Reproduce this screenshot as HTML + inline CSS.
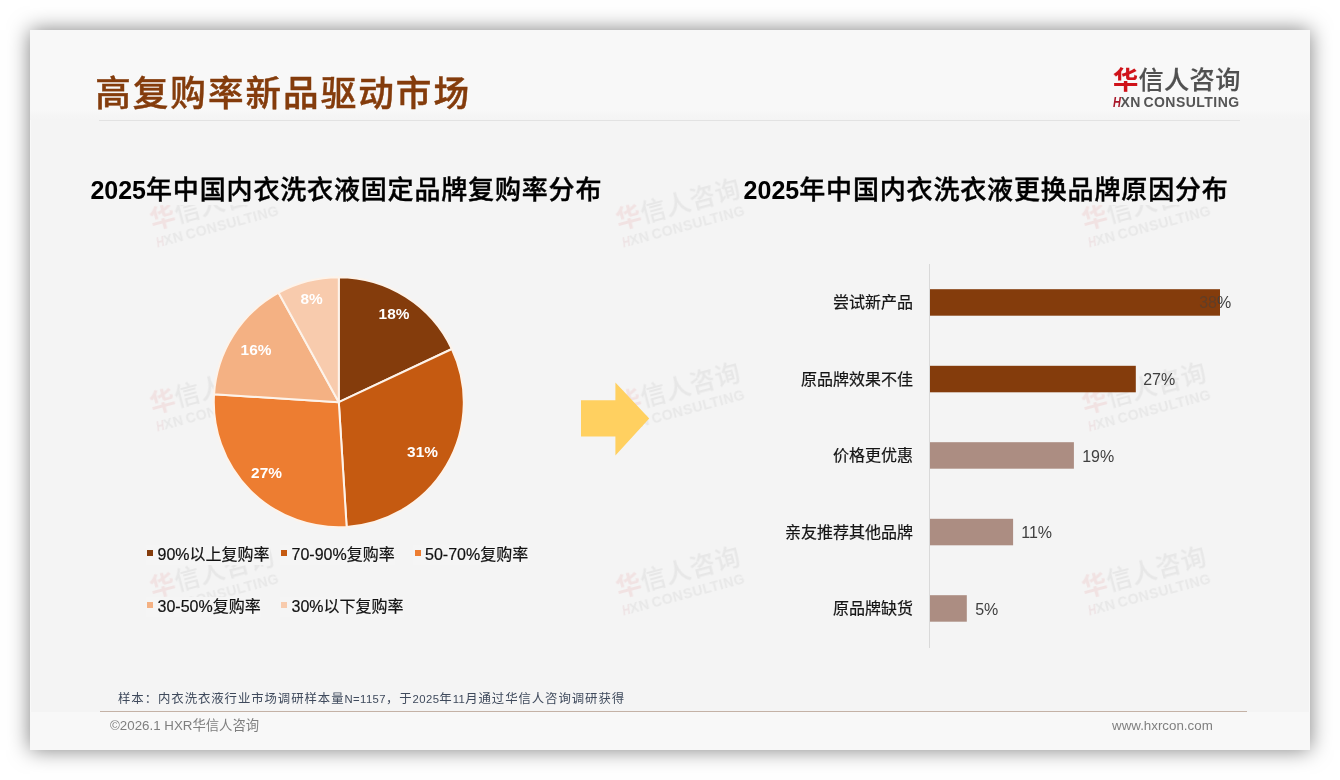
<!DOCTYPE html>
<html lang="zh-CN">
<head>
<meta charset="utf-8">
<title>高复购率新品驱动市场</title>
<style>
*{margin:0;padding:0;box-sizing:border-box}
html,body{width:1340px;height:780px;background:#fff;overflow:hidden}
body{position:relative;font-family:"Liberation Sans","Noto Sans CJK SC",sans-serif;color:#1a1a1a}
.slide{position:absolute;left:30px;top:30px;width:1280px;height:720px;background:#f4f4f4;box-shadow:0 0 20px rgba(0,0,0,.5),inset 0 0 0 1px rgba(255,255,255,.45);overflow:hidden}
.hdr{position:absolute;left:0;top:0;width:1280px;height:90px;background:linear-gradient(#f8f8f8 0,#f8f8f8 80px,#f5f5f5 86px,#f4f4f4 90px)}
.ftr{position:absolute;left:0;top:682px;width:1280px;height:38px;background:#f8f8f8}
.abs{position:absolute;white-space:nowrap}
.title{left:65.2px;top:38.8px;font-size:35.6px;letter-spacing:2px;line-height:50px;font-weight:500;-webkit-text-stroke:.45px #843C0C;color:#843C0C;font-family:"Liberation Sans","Noto Sans CJK SC",sans-serif}
.hline{left:69px;top:89.7px;width:1141px;height:1.3px;background:#e2e2e2}
.fline{left:70px;top:681px;width:1147px;height:1px;background:#c4b2a6}
.logo{width:128px;height:44px}
.logo .cn{position:absolute;left:0;top:-1px;font-size:25.2px;line-height:30px;font-weight:500;-webkit-text-stroke:.15px;color:#505050;letter-spacing:.35px;font-family:"Liberation Sans","Noto Sans CJK SC",sans-serif}
.logo .cn b{color:#cf1219;font-weight:700}
.logo .en{position:absolute;left:0;top:29.4px;font-size:14px;line-height:14px;font-weight:700;color:#555;font-family:"Liberation Sans",sans-serif;letter-spacing:.46px;word-spacing:-1.8px}
.logo .en b{color:#a8182a;font-style:italic;display:inline-block;transform:scaleX(.78);transform-origin:0 50%;margin-right:-2.6px;letter-spacing:0}
.wm .cn{top:-2.1px}
.wm{opacity:.075;filter:blur(.4px);transform:rotate(-15deg);transform-origin:0 0}
.ctitle u{text-decoration:none;letter-spacing:0;font-weight:700;-webkit-text-stroke:0;font-size:25px}
.ctitle{font-size:26px;letter-spacing:.84px;line-height:29px;background:#f4f4f4;font-weight:500;-webkit-text-stroke:.4px #000;color:#000;font-family:"Liberation Sans","Noto Sans CJK SC",sans-serif}
.plabel{font-size:15.4px;line-height:16px;font-weight:700;color:#fff;transform:translate(-50%,-50%);font-family:"Liberation Sans",sans-serif}
.leg{font-size:16px;line-height:20px;background:#f5f5f5;box-shadow:-12px 0 0 #f5f5f5;color:#111;-webkit-text-stroke:.2px #111}
.leg i{position:absolute;left:-10.5px;top:5.4px;width:6px;height:6px;display:block}
.blabel{font-size:16px;line-height:20px;color:#151515;-webkit-text-stroke:.2px #151515;text-align:right;width:200px}
.bval{font-size:16px;line-height:20px;color:#404040;font-family:"Liberation Sans",sans-serif}
.note{font-size:12.4px;letter-spacing:.93px;line-height:16px;color:#3f4a5c}
.note u{text-decoration:none;font-size:11.3px;letter-spacing:.4px}
.note s{text-decoration:none;font-family:"Liberation Sans","Noto Sans CJK TC",sans-serif}
.foot{font-size:13.33px;line-height:16px;color:#7f7f7f}
</style>
</head>
<body>
<div class="slide">
  <div class="hdr"></div>
  <div class="ftr"></div>

  <!-- watermarks -->
  <div class="abs logo wm" style="left:117px;top:177.9px"><div class="cn abs"><b>华</b>信人咨询</div><div class="en abs"><b>H</b>XN CONSULTING</div></div>
  <div class="abs logo wm" style="left:583px;top:177.9px"><div class="cn abs"><b>华</b>信人咨询</div><div class="en abs"><b>H</b>XN CONSULTING</div></div>
  <div class="abs logo wm" style="left:1049px;top:177.9px"><div class="cn abs"><b>华</b>信人咨询</div><div class="en abs"><b>H</b>XN CONSULTING</div></div>
  <div class="abs logo wm" style="left:117px;top:361.9px"><div class="cn abs"><b>华</b>信人咨询</div><div class="en abs"><b>H</b>XN CONSULTING</div></div>
  <div class="abs logo wm" style="left:583px;top:361.9px"><div class="cn abs"><b>华</b>信人咨询</div><div class="en abs"><b>H</b>XN CONSULTING</div></div>
  <div class="abs logo wm" style="left:1049px;top:361.9px"><div class="cn abs"><b>华</b>信人咨询</div><div class="en abs"><b>H</b>XN CONSULTING</div></div>
  <div class="abs logo wm" style="left:117px;top:545.9px"><div class="cn abs"><b>华</b>信人咨询</div><div class="en abs"><b>H</b>XN CONSULTING</div></div>
  <div class="abs logo wm" style="left:583px;top:545.9px"><div class="cn abs"><b>华</b>信人咨询</div><div class="en abs"><b>H</b>XN CONSULTING</div></div>
  <div class="abs logo wm" style="left:1049px;top:545.9px"><div class="cn abs"><b>华</b>信人咨询</div><div class="en abs"><b>H</b>XN CONSULTING</div></div>

  <div class="abs title" id="title">高复购率新品驱动市场</div>
  <div class="abs hline"></div>

  <div class="abs logo" id="logo" style="left:1083px;top:36px">
    <div class="cn abs" id="logocn"><b>华</b>信人咨询</div>
    <div class="en abs" id="logoen"><b>H</b>XN CONSULTING</div>
  </div>

  <div class="abs ctitle" id="ct1" style="left:60.4px;top:145.5px"><u>2025</u>年中国内衣洗衣液固定品牌复购率分布</div>
  <div class="abs ctitle" id="ct2" style="left:713.6px;top:145.5px"><u>2025</u>年中国内衣洗衣液更换品牌原因分布</div>

  <!-- pie -->
  <svg class="abs" style="left:0;top:0" width="1280" height="720" viewBox="30 30 1280 720">
    <g stroke="#fdf3ea" stroke-width="2" stroke-linejoin="round">
<path d="M338.8 402.2L338.80 277.20A125.0 125.0 0 0 1 451.90 348.98Z" fill="#843C0C"/>
<path d="M338.8 402.2L451.90 348.98A125.0 125.0 0 0 1 346.65 526.95Z" fill="#C55A11"/>
<path d="M338.8 402.2L346.65 526.95A125.0 125.0 0 0 1 214.05 394.35Z" fill="#ED7D31"/>
<path d="M338.8 402.2L214.05 394.35A125.0 125.0 0 0 1 278.58 292.66Z" fill="#F4B183"/>
<path d="M338.8 402.2L278.58 292.66A125.0 125.0 0 0 1 338.80 277.20Z" fill="#F8CBAD"/>
    </g>
    <polygon points="581,400.3 615.4,400.3 615.4,382.6 649.2,418.6 615.4,455.4 615.4,436.6 581,436.6" fill="#FFD060"/>
    <rect x="929" y="264" width="1" height="384" fill="#d9d9d9"/>
    <rect x="930" y="289.2" width="290" height="26.5" fill="#843C0C"/>
    <rect x="930" y="365.8" width="205.8" height="26.5" fill="#843C0C"/>
    <rect x="930" y="442.2" width="143.9" height="26.5" fill="#AC8D82"/>
    <rect x="930" y="518.8" width="83.1" height="26.5" fill="#AC8D82"/>
    <rect x="930" y="595.2" width="36.8" height="26.5" fill="#AC8D82"/>
  </svg>

  <div class="abs plabel" id="p1" style="left:364px;top:284.3px">18%</div>
  <div class="abs plabel" id="p2" style="left:392.5px;top:421.8px">31%</div>
  <div class="abs plabel" id="p3" style="left:236.5px;top:442.8px">27%</div>
  <div class="abs plabel" id="p4" style="left:226px;top:320.3px">16%</div>
  <div class="abs plabel" id="p5" style="left:281.5px;top:269.3px">8%</div>

  <div class="abs leg" id="l1" style="left:127.5px;top:514.6px"><i style="background:#843C0C"></i>90%以上复购率</div>
  <div class="abs leg" id="l2" style="left:261.5px;top:514.6px"><i style="background:#C55A11"></i>70-90%复购率</div>
  <div class="abs leg" id="l3" style="left:395px;top:514.6px"><i style="background:#ED7D31"></i>50-70%复购率</div>
  <div class="abs leg" id="l4" style="left:127.5px;top:566.6px"><i style="background:#F4B183"></i>30-50%复购率</div>
  <div class="abs leg" id="l5" style="left:261.5px;top:566.6px"><i style="background:#F8CBAD"></i>30%以下复购率</div>

  <div class="abs blabel" id="b1" style="left:683px;top:262.5px">尝试新产品</div>
  <div class="abs blabel" id="b2" style="left:683px;top:339.5px">原品牌效果不佳</div>
  <div class="abs blabel" id="b3" style="left:683px;top:415.5px">价格更优惠</div>
  <div class="abs blabel" id="b4" style="left:683px;top:493px">亲友推荐其他品牌</div>
  <div class="abs blabel" id="b5" style="left:683px;top:569px">原品牌缺货</div>

  <div class="abs bval" id="v1" style="left:1169.2px;top:263px"><span style="color:rgba(64,64,64,.5)">38</span>%</div>
  <div class="abs bval" id="v2" style="left:1113.2px;top:340px">27%</div>
  <div class="abs bval" id="v3" style="left:1052.2px;top:416.5px">19%</div>
  <div class="abs bval" id="v4" style="left:991.2px;top:493px">11%</div>
  <div class="abs bval" id="v5" style="left:945.2px;top:570px">5%</div>

  <div class="abs fline"></div>
  <div class="abs note" id="note" style="left:88px;top:661.3px">样本<s>：</s>内衣洗衣液行业市场调研样本量<u>N=1157</u>，于<u>2025</u>年<u>11</u>月通过华信人咨询调研获得</div>
  <div class="abs foot" id="f1" style="left:80px;top:688px">©2026.1 HXR华信人咨询</div>
  <div class="abs foot" id="f2" style="left:1082px;top:688px">www.hxrcon.com</div>
</div>
</body>
</html>
